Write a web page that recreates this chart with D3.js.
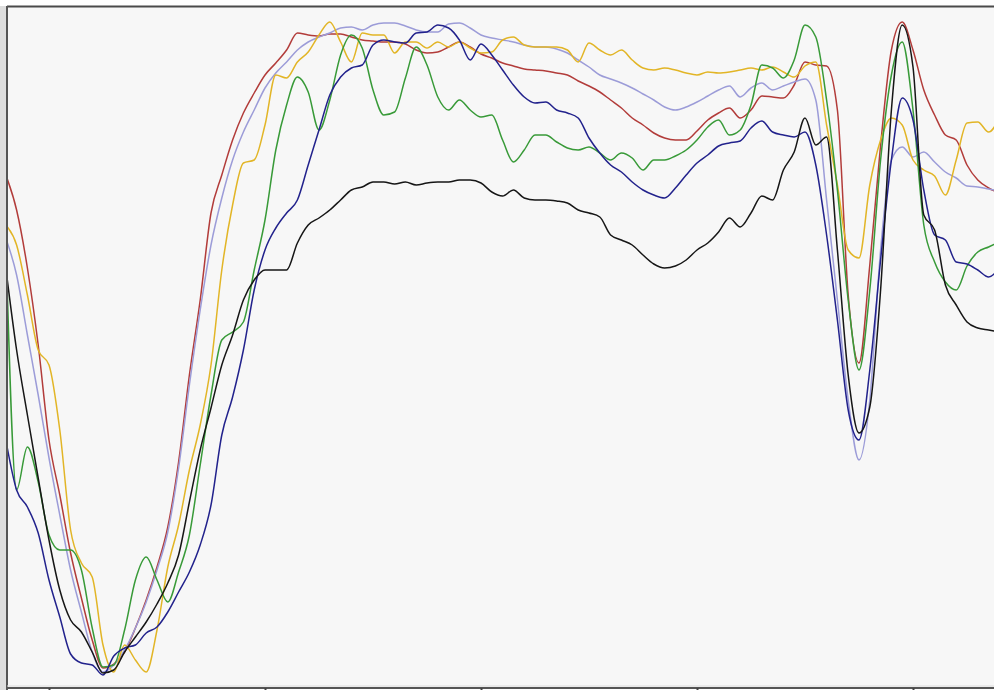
<!DOCTYPE html>
<html><head><meta charset="utf-8">
<script src="https://cdn.jsdelivr.net/npm/d3@7"></script>
<style>html,body{margin:0;padding:0;background:#fff;overflow:hidden}</style>
</head><body><svg id="c" width="994" height="690"></svg>
<script>
// Shared sample grid (x units)
const wavelengths = d3.range(380, 841, 5);
const xTicks = [400, 500, 600, 700, 800];

// Series values (y units, 0..680)
const redSeries = [512,477,419,342,247,192,134,89,47,19,23,35,59,87,120,160,225,312,387,474,512,547,574,594,612,624,637,654,652,651,653,653,650,647,646,645,645,643,637,634,635,640,645,640,633,629,624,621,618,617,616,614,612,606,601,595,587,579,569,562,554,549,547,547,556,567,574,579,569,577,591,590,589,602,625,622,621,577,392,324,422,542,637,665,637,597,572,552,547,522,507,499,494];
const lavenderSeries = [449,412,352,292,229,172,117,75,35,15,22,37,59,85,117,155,219,302,377,442,489,527,555,577,599,614,625,637,645,650,654,659,660,657,662,664,664,661,657,655,655,663,664,659,652,649,647,645,642,640,640,638,634,627,620,612,608,604,599,593,587,580,577,580,585,591,597,601,590,599,604,597,601,605,608,587,487,387,287,227,287,437,527,540,530,535,525,515,509,501,500,498,496];
const yellowSeries = [462,442,392,337,322,257,157,124,110,42,15,42,27,15,57,120,162,217,262,322,417,482,524,527,562,612,609,625,635,652,665,645,625,654,652,652,634,645,645,639,645,640,645,639,634,635,647,650,642,640,640,640,637,625,644,637,632,637,627,619,617,619,617,614,612,615,614,615,617,619,617,620,615,610,621,625,562,502,437,429,502,547,569,562,527,517,511,492,527,564,565,555,569];
const greenSeries = [447,197,240,205,152,137,137,117,59,20,22,57,107,130,107,85,115,152,222,292,347,355,365,417,467,537,582,610,595,557,587,632,652,639,597,572,575,609,640,622,590,577,587,577,570,572,547,525,537,552,552,545,539,537,540,534,527,534,529,517,527,527,531,537,547,560,567,552,557,582,622,619,609,627,662,650,587,497,387,317,397,527,612,645,577,462,425,405,397,421,435,440,445];
const navySeries = [247,197,180,154,107,70,33,24,22,12,31,39,42,54,60,75,95,115,142,182,252,290,337,397,437,459,474,487,522,557,592,610,619,622,642,647,645,644,654,655,662,659,647,627,643,632,617,602,590,584,585,577,574,569,549,534,522,515,505,497,492,489,499,512,524,532,541,544,546,559,566,555,552,550,555,522,452,367,277,247,317,427,527,589,567,497,452,447,425,423,417,410,419];
const blackSeries = [419,337,272,209,147,97,67,55,35,14,17,35,50,65,83,104,132,185,237,279,322,352,387,407,417,417,417,444,462,469,477,487,497,500,505,505,503,505,502,504,505,505,507,507,504,495,491,497,489,487,487,486,484,477,474,470,452,447,442,432,423,419,421,427,437,444,455,469,460,474,491,487,517,535,569,542,550,437,312,254,280,397,577,662,620,472,457,402,382,365,359,357,355];

const seriesList = [
  {name: "red", values: redSeries, color: "#b23c3a"},
  {name: "lavender", values: lavenderSeries, color: "#9c9cd8"},
  {name: "yellow", values: yellowSeries, color: "#e2b526"},
  {name: "green", values: greenSeries, color: "#389a38"},
  {name: "navy", values: navySeries, color: "#22228c"},
  {name: "black", values: blackSeries, color: "#161616"}
];

const svg = d3.select("#c");
const W = 994, H = 690;
const plot = {left: 7, top: 7, right: 994, bottom: 688};

const x = d3.scaleLinear().domain([400, 800]).range([49, 913]);
const y = d3.scaleLinear().domain([0, 680]).range([687, 7]);

// background
svg.append("rect").attr("x",0).attr("y",0).attr("width",W).attr("height",H).attr("fill","#ffffff");
svg.append("rect").attr("x",0).attr("y",6).attr("width",6).attr("height",H-6).attr("fill","#dedede");
svg.append("rect").attr("x",plot.left).attr("y",plot.top).attr("width",plot.right-plot.left+2).attr("height",plot.bottom-plot.top)
  .attr("fill","#f7f7f7");

svg.append("defs").append("clipPath").attr("id","clip")
  .append("rect").attr("x",plot.left+1).attr("y",plot.top+1).attr("width",plot.right-plot.left).attr("height",plot.bottom-plot.top-2);

const line = d3.line()
  .x((d,i) => x(wavelengths[i]))
  .y(d => y(d))
  .curve(d3.curveMonotoneX);

const g = svg.append("g").attr("clip-path","url(#clip)");
g.selectAll("path.series").data(seriesList).join("path")
  .attr("class","series")
  .attr("d", d => line(d.values))
  .attr("fill","none")
  .attr("stroke", d => d.color)
  .attr("stroke-width", 1.5)
  .attr("stroke-linejoin","round");

// frame
svg.append("line").attr("x1",plot.left).attr("x2",W).attr("y1",6.5).attr("y2",6.5).attr("stroke","#4a4a4a").attr("stroke-width",2);
svg.append("line").attr("x1",7).attr("x2",7).attr("y1",6).attr("y2",H).attr("stroke","#555").attr("stroke-width",2);
svg.append("line").attr("x1",plot.left).attr("x2",W).attr("y1",686).attr("y2",686).attr("stroke","#dcdcdc").attr("stroke-width",1);

// bottom axis
const axis = d3.axisBottom(x).tickValues(xTicks).tickSize(4).tickSizeOuter(0).tickFormat(() => "");
const ax = svg.append("g").attr("transform","translate(0,688)").call(axis);
ax.select(".domain").attr("stroke","#555").attr("stroke-width",2).attr("d","M7,0H994");
ax.selectAll(".tick line").attr("stroke","#444").attr("stroke-width",2);
</script>
</body></html>
